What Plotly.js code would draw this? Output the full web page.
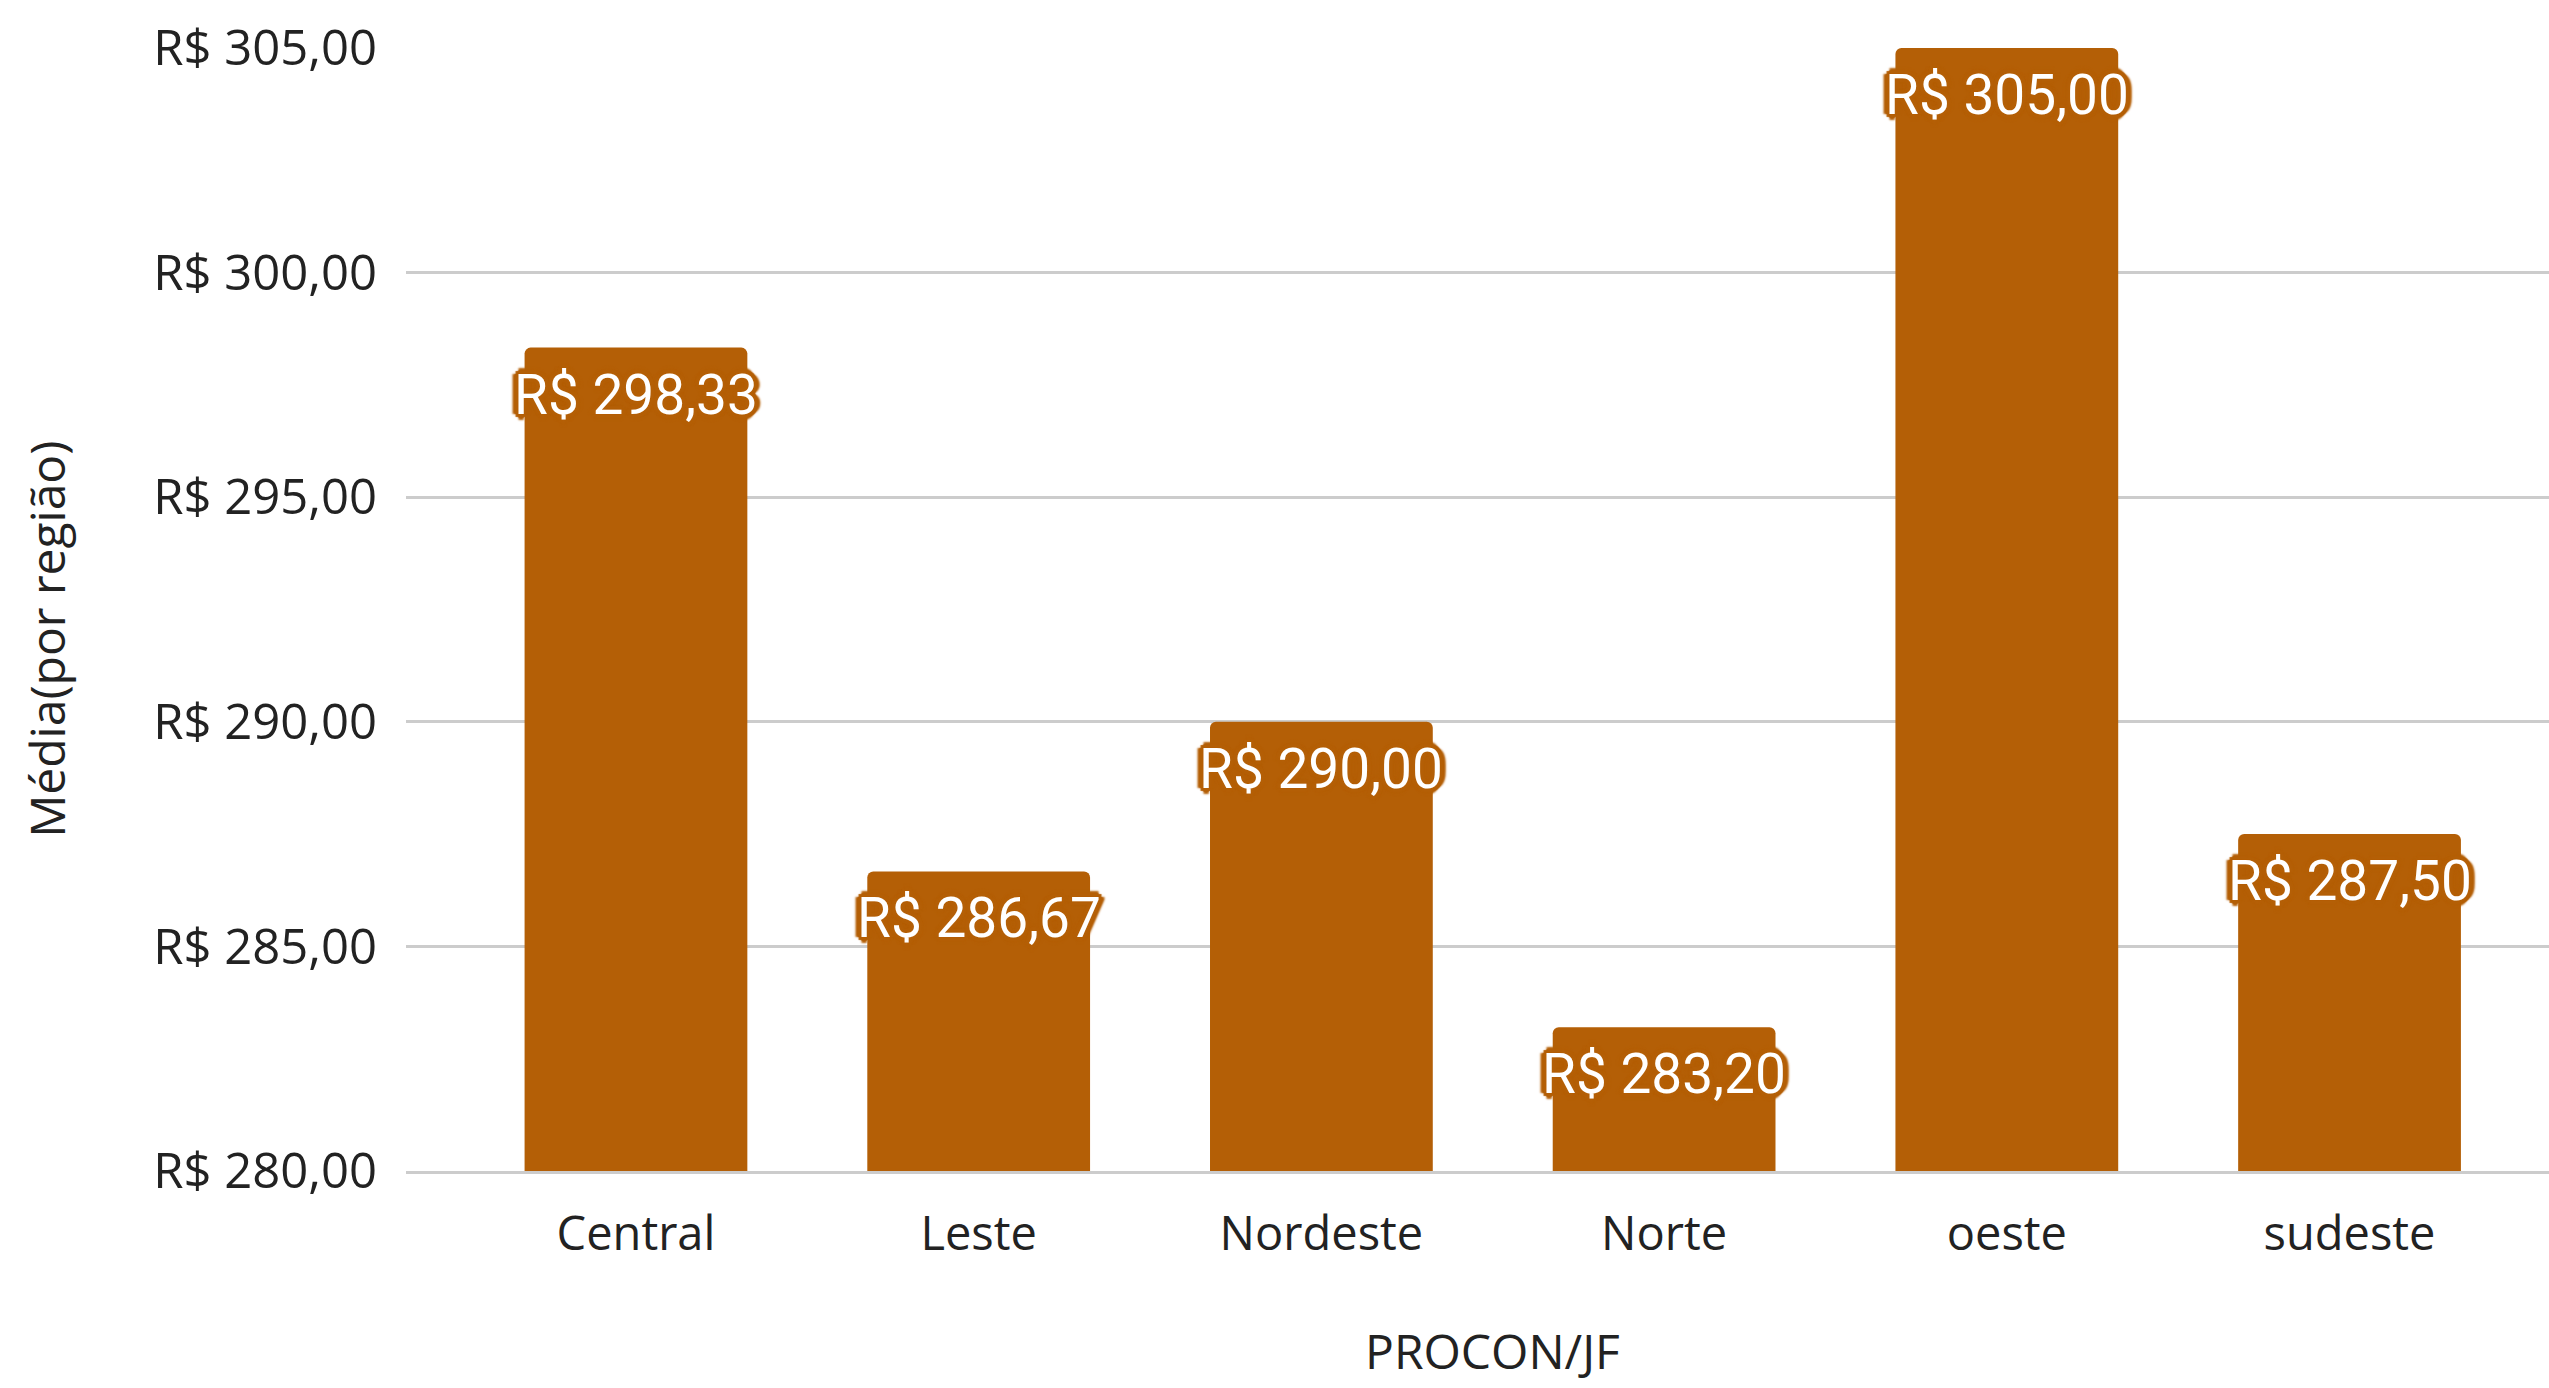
<!DOCTYPE html>
<html>
<head>
<meta charset="utf-8">
<script src="https://cdn.plot.ly/plotly-3.0.1.min.js"></script>
<style>html,body{margin:0;padding:0;background:#fff;}</style>
</head>
<body>
<div id="chart" style="width:2549px;height:1388px;"></div>
<script>
const categories = ["Central", "Leste", "Nordeste", "Norte", "oeste", "sudeste"];
const values = [298.33, 286.67, 290.00, 283.20, 305.00, 287.50];
const tickValues = [280, 285, 290, 295, 300, 305];
const yTitle = "Média(por região)";
const xTitle = "PROCON/JF";

const barColor = "#b45f06";
function brl(v) { return "R$ " + v.toFixed(2).replace(".", ","); }

const halo = [
  "-4px 0 1px " + barColor, "4px 0 1px " + barColor, "0 -4px 1px " + barColor, "0 4px 1px " + barColor,
  "-3px -3px 1px " + barColor, "3px -3px 1px " + barColor, "-3px 3px 1px " + barColor, "3px 3px 1px " + barColor,
  "-6px 0 2px " + barColor, "6px 0 2px " + barColor, "0 -6px 2px " + barColor, "0 6px 2px " + barColor
].join(", ");

const trace = {
  type: "bar",
  x: categories,
  y: values,
  width: 0.65,
  marker: { color: barColor, cornerradius: 6, line: { width: 0 } },
  hoverinfo: "skip"
};

const labelAnnotations = categories.map((c, i) => ({
  x: c,
  y: values[i],
  xref: "x",
  yref: "y",
  text: brl(values[i]),
  showarrow: false,
  xanchor: "center",
  yanchor: "middle",
  yshift: -47,
  font: { family: "Roboto, sans-serif", size: 55, color: "#ffffff", shadow: halo }
}));

const titleFont = { family: "Open Sans, sans-serif", size: 48, color: "#222222" };
const titleAnnotations = [
  { text: yTitle, xref: "paper", yref: "paper", x: -0.1675, y: 0.473, xanchor: "center", yanchor: "middle",
    textangle: -90, showarrow: false, font: titleFont },
  { text: xTitle, xref: "paper", yref: "paper", x: 0.507, y: -0.160, xanchor: "center", yanchor: "middle",
    showarrow: false, font: titleFont }
];

const layout = {
  width: 2549,
  height: 1388,
  margin: { l: 406, r: 0, t: 48, b: 217 },
  paper_bgcolor: "#ffffff",
  plot_bgcolor: "#ffffff",
  showlegend: false,
  separators: ",.",
  font: { family: "Open Sans, sans-serif", size: 46, color: "#222222" },
  xaxis: {
    type: "category",
    range: [-0.671, 5.582],
    showgrid: false,
    showline: true,
    linecolor: "#cccccc",
    linewidth: 3,
    ticks: "",
    ticklabelstandoff: 20,
    tickfont: { family: "Open Sans, sans-serif", size: 47, color: "#222222" },
    automargin: false,
    fixedrange: true
  },
  yaxis: {
    range: [280, 305],
    tickvals: tickValues,
    ticktext: tickValues.map(brl),
    showgrid: true,
    gridcolor: "#cccccc",
    gridwidth: 3,
    zeroline: false,
    showline: false,
    ticks: "",
    ticklabelstandoff: 28,
    tickfont: { family: "Open Sans, sans-serif", size: 49, color: "#222222" },
    automargin: false,
    fixedrange: true
  },
  annotations: labelAnnotations.concat(titleAnnotations)
};

Plotly.newPlot("chart", [trace], layout, { displayModeBar: false, staticPlot: true });
</script>
</body>
</html>
